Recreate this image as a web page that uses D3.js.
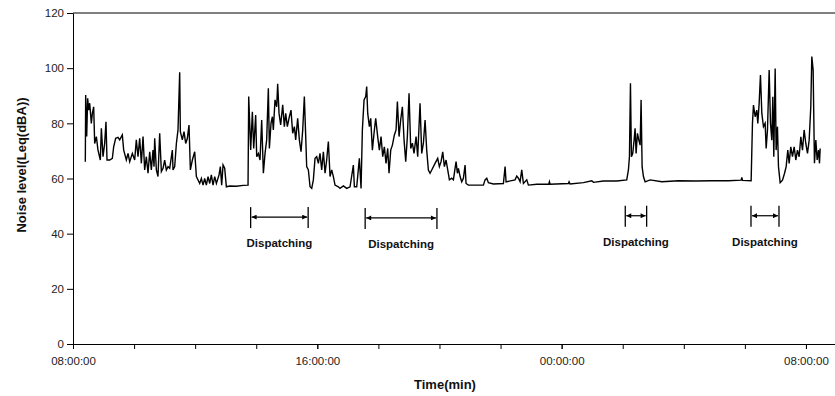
<!DOCTYPE html>
<html>
<head>
<meta charset="utf-8">
<script src="https://cdn.jsdelivr.net/npm/d3@7"></script>
<style>
  body { margin: 0; background: #fff; }
  svg { display: block; font-family: Arial, "Liberation Sans", sans-serif; }
</style>
</head>
<body>
<svg id="chart" width="835" height="396"></svg>
<script>
// minutes after 08:00:00 on day one
const minutes = [
  24.2, 24.9, 26.9, 28.8, 30.8, 32.8, 36.0, 38.0, 40.6, 42.6, 45.9, 49.1, 53.7, 55.7, 59.0, 62.2, 64.8, 66.8, 72.1, 77.3,
  79.9, 83.8, 88.4, 91.7, 96.9, 99.6, 104.8, 108.1, 111.4, 116.6, 121.2, 124.4, 127.7, 131.0, 134.3, 137.6, 140.8, 144.1, 147.4, 150.7,
  153.9, 157.2, 159.2, 160.5, 163.8, 167.0, 170.3, 173.6, 176.9, 180.1, 183.4, 186.7, 190.0, 195.2, 196.5, 199.8, 203.1, 206.3, 209.6, 210.9,
  214.8, 218.1, 221.4, 224.7, 227.9, 230.6, 234.5, 239.1, 242.4, 248.9, 252.2, 255.5, 258.7, 262.0, 265.3, 268.6, 271.8, 275.1, 278.4, 281.7,
  286.9, 289.5, 292.1, 294.8, 298.0, 301.3, 307.9, 321.0, 334.1, 343.9, 345.2, 349.1, 352.4, 355.0, 358.9,
  360.9, 364.2, 367.4, 370.7, 374.0, 377.3, 380.5, 383.8, 385.8, 389.0, 391.7, 393.6, 396.9, 400.2, 402.1, 404.8, 408.0, 412.0, 415.2, 417.9,
  421.1, 425.1, 428.3, 431.6, 434.9, 437.5, 441.4, 444.7, 448.0, 451.3, 454.5, 457.2, 459.1, 462.4, 465.7, 469.0, 472.2, 475.5, 478.8, 482.1,
  485.3, 488.6, 491.9, 495.2, 498.4, 501.7, 505.0, 508.3, 511.5, 514.8, 521.4, 524.6, 531.2, 537.7, 544.3, 550.8, 552.8, 557.4, 562.6, 565.9,
  568.5, 571.8, 575.1, 577.0, 579.0, 582.3, 584.9, 588.2, 591.4, 594.7, 598.6, 601.9, 605.2, 608.5, 611.7, 615.0, 618.3, 620.9, 624.2, 627.5,
  631.4, 634.7, 637.3, 640.6, 643.8, 647.1, 650.4, 653.7, 656.9, 660.2, 663.5, 666.8, 670.0, 674.0, 677.2, 681.8, 685.1, 688.4, 691.7, 694.9,
  698.2, 701.5, 704.8, 711.3, 716.5, 719.8, 723.1, 726.4, 729.6, 732.9, 736.2, 739.5, 744.1,
  747.4, 750.6, 752.6, 755.2, 757.2, 760.5, 763.7, 767.0, 770.3, 772.2, 776.8, 806.3, 809.6, 812.9, 816.1, 826.0, 845.6, 848.9, 850.8, 868.5,
  871.8, 875.1, 878.4, 881.6, 884.9, 891.5, 894.7, 911.1, 934.7, 936.0, 937.3, 973.3, 974.6, 976.6, 1002.8, 1019.2, 1022.5, 1042.1, 1068.3, 1087.9,
  1091.2, 1093.2, 1095.2, 1097.1, 1099.7, 1102.4, 1104.3, 1106.3, 1108.9, 1111.5, 1114.2, 1116.1, 1118.1, 1120.7, 1124.0, 1133.8,
  1156.8, 1189.5, 1222.3, 1255.0, 1287.8, 1312.6, 1314.0, 1315.3, 1332.3, 1334.9, 1336.9, 1340.2, 1343.4, 1345.4, 1348.0, 1350.6, 1353.3, 1356.5, 1359.8, 1361.8,
  1364.4, 1367.7, 1370.3, 1372.9, 1374.9, 1376.8, 1379.5, 1381.4, 1384.0, 1386.0, 1389.3, 1393.9, 1397.8, 1401.1, 1404.3, 1407.0, 1410.2, 1413.5, 1416.8, 1420.1,
  1423.3, 1426.6, 1429.9, 1433.2, 1436.4, 1439.7, 1443.0, 1446.3, 1449.5, 1451.5, 1454.1, 1456.7, 1459.4, 1462.0, 1464.6, 1466.6, 1467.9
];

// Leq in dBA at each of those minutes
const leq = [
  66.1, 90.3, 75.2, 89.1, 84.8, 87.3, 80.0, 83.6, 86.0, 72.7, 75.2, 70.3, 66.7, 78.2, 67.9, 72.7, 80.6, 66.7, 66.7, 67.3,
  71.5, 74.6, 74.9, 74.0, 75.8, 70.3, 66.7, 69.1, 66.1, 69.1, 66.7, 74.0, 67.9, 74.6, 65.5, 75.2, 63.1, 67.9, 61.9, 69.7,
  63.1, 70.3, 64.3, 74.6, 63.1, 60.7, 76.4, 62.5, 63.7, 66.7, 63.1, 64.3, 63.7, 70.3, 63.1, 64.3, 72.7, 77.6, 98.5, 77.0,
  74.0, 77.0, 72.7, 74.6, 79.4, 63.1, 66.7, 69.7, 60.7, 58.2, 60.0, 57.6, 60.0, 57.6, 60.7, 58.2, 61.3, 57.6, 60.7, 58.2,
  61.3, 64.3, 57.6, 64.9, 63.7, 57.0, 57.3, 57.2, 57.5, 57.6, 89.7, 70.3, 84.2, 70.9, 83.0,
  67.9, 69.1, 66.7, 81.2, 61.9, 69.1, 74.0, 92.7, 70.9, 80.0, 82.4, 77.6, 88.5, 86.0, 94.3, 83.6, 79.4, 86.7, 78.8, 83.6,
  78.8, 82.4, 84.8, 76.4, 78.8, 74.0, 81.8, 74.0, 69.7, 77.6, 89.7, 75.2, 64.3, 63.1, 57.0, 56.4, 59.5, 67.3, 67.9, 65.5,
  69.1, 63.1, 69.7, 61.9, 66.7, 73.4, 60.7, 63.1, 60.7, 57.6, 57.0, 56.4, 57.3, 56.4, 57.0, 64.9, 57.0, 57.0, 67.3, 56.4,
  77.6, 88.5, 89.7, 93.3, 83.6, 78.8, 81.8, 70.3, 76.4, 81.8, 75.2, 70.3, 75.2, 67.9, 71.5, 65.5, 70.9, 61.9, 70.3, 72.1,
  75.8, 77.6, 87.9, 75.2, 81.2, 86.0, 74.0, 66.1, 75.2, 90.9, 70.9, 72.8, 69.1, 75.2, 67.9, 87.3, 69.1, 72.8, 81.2, 70.3,
  63.1, 61.9, 63.1, 65.5, 67.3, 64.3, 66.1, 69.7, 64.3, 66.7, 63.1, 59.5, 60.1,
  59.5, 63.7, 66.1, 61.9, 63.7, 60.7, 58.8, 60.1, 64.9, 58.2, 57.6, 57.6, 59.5, 60.1, 58.5, 58.0, 58.2, 64.3, 58.8, 59.5,
  60.9, 60.1, 58.8, 63.1, 58.2, 59.5, 57.6, 57.9, 57.9, 58.8, 57.9, 58.2, 58.8, 58.0, 58.5, 59.2, 58.6, 59.1, 59.1, 59.5,
  63.1, 67.9, 94.5, 67.9, 69.1, 74.0, 78.2, 69.1, 76.4, 74.0, 72.1, 88.5, 64.3, 60.7, 58.8, 59.5,
  58.8, 59.2, 59.1, 59.2, 59.2, 59.4, 60.4, 59.3, 59.2, 80.0, 86.6, 82.4, 84.8, 80.0, 87.2, 97.5, 83.6, 78.8, 80.0, 70.9,
  77.6, 99.3, 80.0, 73.9, 89.6, 67.9, 99.9, 70.3, 78.8, 64.3, 58.5, 59.4, 61.8, 64.3, 70.3, 65.5, 71.5, 67.9, 71.5, 66.7,
  70.3, 67.9, 75.1, 70.3, 77.6, 72.7, 69.1, 73.9, 86.0, 104.2, 99.3, 65.5, 73.9, 66.7, 70.3, 65.5, 70.9
];

// dispatching periods, minutes after 08:00:00
const dispatchStart = [349, 574, 1085, 1332];
const dispatchEnd = [462, 715, 1127, 1387];
const dispatchLevel = [46.0, 45.7, 46.5, 46.5];

const yTicks = [0, 20, 40, 60, 80, 100, 120];

const svg = d3.select('#chart');
const base = new Date(2000, 0, 1, 8, 0, 0);
const toDate = m => new Date(base.getTime() + m * 60000);

const x = d3.scaleTime()
  .domain([base, toDate(1500)])
  .range([73, 836.5]);
const y = d3.scaleLinear()
  .domain([0, 120])
  .range([344, 13]);

// top frame line
svg.append('line')
  .attr('x1', x.range()[0]).attr('x2', x.range()[1])
  .attr('y1', y(120)).attr('y2', y(120))
  .attr('stroke', '#000').attr('stroke-width', 1);

// minor x ticks every 2 hours
const xMinor = d3.axisBottom(x)
  .ticks(d3.timeHour.every(2))
  .tickSize(5).tickSizeOuter(0)
  .tickFormat('');
svg.append('g')
  .attr('transform', `translate(0,${y(0)})`)
  .call(xMinor)
  .call(g => g.selectAll('line').attr('stroke', '#000'))
  .call(g => g.select('.domain').attr('stroke', '#000'));

// labelled x ticks every 8 hours
const xMajor = d3.axisBottom(x)
  .tickValues([0, 480, 960, 1440].map(toDate))
  .tickSize(5).tickSizeOuter(0).tickPadding(8)
  .tickFormat(d3.timeFormat('%H:%M:%S'));
svg.append('g')
  .attr('transform', `translate(0,${y(0)})`)
  .call(xMajor)
  .call(g => g.select('.domain').remove())
  .call(g => g.selectAll('line').attr('stroke', '#000'))
  .call(g => g.selectAll('text')
    .attr('fill', '#222')
    .style('font-size', '11.5px'));

svg.append('g')
  .attr('transform', `translate(${x.range()[0]},0)`)
  .call(d3.axisLeft(y).tickValues(yTicks).tickSize(6).tickSizeOuter(0).tickPadding(3))
  .call(g => g.select('.domain').attr('stroke', '#000'))
  .call(g => g.selectAll('line').attr('stroke', '#000'))
  .call(g => g.selectAll('text')
    .attr('fill', '#222')
    .style('font-size', '11.5px'));

// noise trace
const line = d3.line()
  .x((d, i) => x(toDate(minutes[i])))
  .y(d => y(d));

svg.append('path')
  .datum(leq)
  .attr('fill', 'none')
  .attr('stroke', '#000')
  .attr('stroke-width', 1.4)
  .attr('stroke-linejoin', 'miter')
  .attr('d', line);

// dispatching brackets
const defs = svg.append('defs');
defs.append('marker')
  .attr('id', 'arrowEnd')
  .attr('viewBox', '0 -4 8 8')
  .attr('refX', 8).attr('refY', 0)
  .attr('markerWidth', 6).attr('markerHeight', 5)
  .attr('markerUnits', 'userSpaceOnUse')
  .attr('orient', 'auto-start-reverse')
  .append('path')
  .attr('d', 'M0,-4L8,0L0,4Z')
  .attr('fill', '#000');

const brackets = svg.append('g')
  .selectAll('g')
  .data(dispatchStart)
  .enter().append('g');

brackets.each(function(start, i) {
  const g = d3.select(this);
  const x0 = x(toDate(start));
  const x1 = x(toDate(dispatchEnd[i]));
  const ya = y(dispatchLevel[i]);

  [x0, x1].forEach(xx => {
    g.append('line')
      .attr('x1', xx).attr('x2', xx)
      .attr('y1', ya - 10).attr('y2', ya + 11)
      .attr('stroke', '#000').attr('stroke-width', 1.3);
  });

  g.append('line')
    .attr('x1', x0 + 1).attr('x2', x1 - 1)
    .attr('y1', ya).attr('y2', ya)
    .attr('stroke', '#000').attr('stroke-width', 1.2)
    .attr('marker-start', 'url(#arrowEnd)')
    .attr('marker-end', 'url(#arrowEnd)');

  g.append('text')
    .attr('x', (x0 + x1) / 2)
    .attr('y', ya + 30)
    .attr('text-anchor', 'middle')
    .attr('fill', '#111')
    .style('font-size', '11.5px')
    .style('font-weight', 'bold')
    .text('Dispatching');
});

// axis titles
svg.append('text')
  .attr('x', 445).attr('y', 389)
  .attr('text-anchor', 'middle')
  .attr('fill', '#111')
  .style('font-size', '13px')
  .style('font-weight', 'bold')
  .text('Time(min)');

svg.append('text')
  .attr('transform', 'translate(26,165) rotate(-90)')
  .attr('text-anchor', 'middle')
  .attr('fill', '#111')
  .style('font-size', '13px')
  .style('font-weight', 'bold')
  .text('Noise level(Leq(dBA))');
</script>
</body>
</html>
